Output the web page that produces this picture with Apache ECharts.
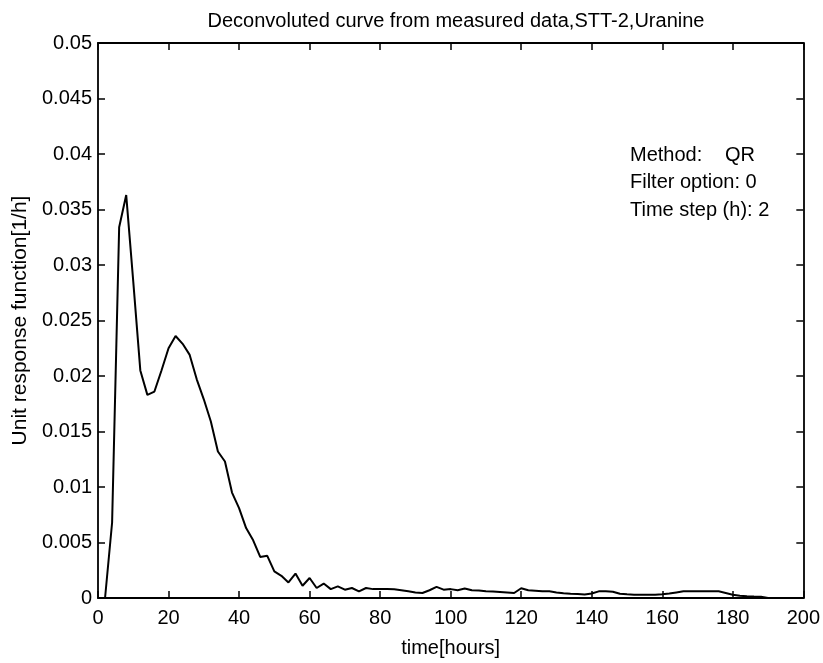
<!DOCTYPE html>
<html>
<head>
<meta charset="utf-8">
<script src="https://cdn.jsdelivr.net/npm/echarts@6/dist/echarts.min.js"></script>
<style>html,body{margin:0;padding:0;background:#fff;}#c{width:823px;height:663px;}</style>
</head>
<body>
<div id="c"></div>
<script>
const timeHours = [2,4,6,8,10,12,14,16,18,20,22,24,26,28,30,32,34,36,38,40,42,44,46,48,50,52,54,56,58,60,62,64,66,68,70,72,74,76,78,80,82,84,86,88,90,92,94,96,98,100,102,104,106,108,110,112,114,116,118,120,122,124,126,128,130,132,134,136,138,140,142,144,146,148,150,152,154,156,158,160,162,164,166,168,170,172,174,176,178,180,182,184,186,188,190,192,194,196,198,200];
const unitResponse = [0,0.0068,0.0334,0.0363,0.0285,0.0205,0.0183,0.0186,0.0205,0.0225,0.0236,0.0229,0.0219,0.0197,0.0179,0.0159,0.0132,0.0123,0.0095,0.0081,0.0063,0.0052,0.0037,0.0038,0.0024,0.0020,0.0014,0.0022,0.0011,0.0018,0.0009,0.0013,0.0008,0.00105,0.00075,0.0009,0.0006,0.0009,0.0008,0.0008,0.0008,0.00078,0.0007,0.0006,0.0005,0.00045,0.0007,0.001,0.00075,0.0008,0.0007,0.00085,0.0007,0.00068,0.0006,0.00058,0.00055,0.0005,0.00045,0.00088,0.0007,0.00065,0.0006,0.0006,0.0005,0.00042,0.00038,0.00035,0.00032,0.0004,0.0006,0.0006,0.00057,0.00038,0.00033,0.0003,0.0003,0.0003,0.0003,0.00033,0.0004,0.0005,0.0006,0.0006,0.0006,0.0006,0.0006,0.0006,0.00045,0.0003,0.0002,0.00015,0.00013,0.00012,0,0,0,0,0,0];
const xTicks = [0,20,40,60,80,100,120,140,160,180,200];
const yTicks = [0,0.005,0.01,0.015,0.02,0.025,0.03,0.035,0.04,0.045,0.05];
const titleText = 'Deconvoluted curve from measured data,STT-2,Uranine';
const xName = 'time[hours]';
const yName = 'Unit response function[1/h]';
const noteLines = ['Filter option: 0', 'Time step (h): 2'];

const FONT = '"Liberation Sans", Arial, Helvetica, sans-serif';
const chart = echarts.init(document.getElementById('c'), null, {renderer: 'canvas'});
const data = timeHours.map((t, i) => [t, unitResponse[i]]);
const axisLine = {show: true, onZero: false, lineStyle: {color: '#000', width: 1.8}};
const tick = {show: true, inside: true, length: 7, lineStyle: {color: '#000', width: 1.5}};
chart.setOption({
  animation: false,
  backgroundColor: '#fff',
  title: {
    text: titleText, left: 451, top: 6, textAlign: 'center',
    textStyle: {fontFamily: FONT, fontSize: 20, fontWeight: 'normal', color: '#000'}
  },
  grid: {left: 98, right: 19, top: 43, bottom: 61, containLabel: false},
  xAxis: [{
    type: 'value', min: xTicks[0], max: xTicks[xTicks.length - 1], interval: 20,
    position: 'bottom', name: xName, nameLocation: 'middle', nameGap: 40,
    nameTextStyle: {fontFamily: FONT, fontSize: 20, color: '#000'},
    axisLine: axisLine, axisTick: tick, splitLine: {show: false},
    axisLabel: {fontFamily: FONT, fontSize: 20, color: '#000', margin: 10}
  }, {
    type: 'value', min: 0, max: 200, interval: 20, position: 'top',
    axisLine: axisLine, axisTick: tick, splitLine: {show: false}, axisLabel: {show: false}
  }],
  yAxis: [{
    type: 'value', min: yTicks[0], max: yTicks[yTicks.length - 1], interval: 0.005,
    position: 'left', name: yName, nameLocation: 'middle', nameGap: 66, nameRotate: 90,
    nameTextStyle: {fontFamily: FONT, fontSize: 21, color: '#000'},
    axisLine: axisLine, axisTick: tick, splitLine: {show: false},
    axisLabel: {fontFamily: FONT, fontSize: 20, color: '#000', margin: 6,
      formatter: v => String(+v.toFixed(4))}
  }, {
    type: 'value', min: 0, max: 0.05, interval: 0.005, position: 'right',
    axisLine: axisLine, axisTick: tick, splitLine: {show: false}, axisLabel: {show: false}
  }],
  graphic: [
    {type: 'text', left: 630, top: 145, style: {text: 'Method:', font: '20px ' + FONT, fill: '#000'}},
    {type: 'text', left: 725, top: 145, style: {text: 'QR', font: '20px ' + FONT, fill: '#000'}},
    {type: 'text', left: 630, top: 172, style: {text: noteLines[0], font: '20px ' + FONT, fill: '#000'}},
    {type: 'text', left: 630, top: 200, style: {text: noteLines[1], font: '20px ' + FONT, fill: '#000'}}
  ],
  series: [{
    type: 'line', data: data, xAxisIndex: 0, yAxisIndex: 0,
    showSymbol: false, symbol: 'none', lineStyle: {color: '#000', width: 2}, z: 3
  }]
});
</script>
</body>
</html>
